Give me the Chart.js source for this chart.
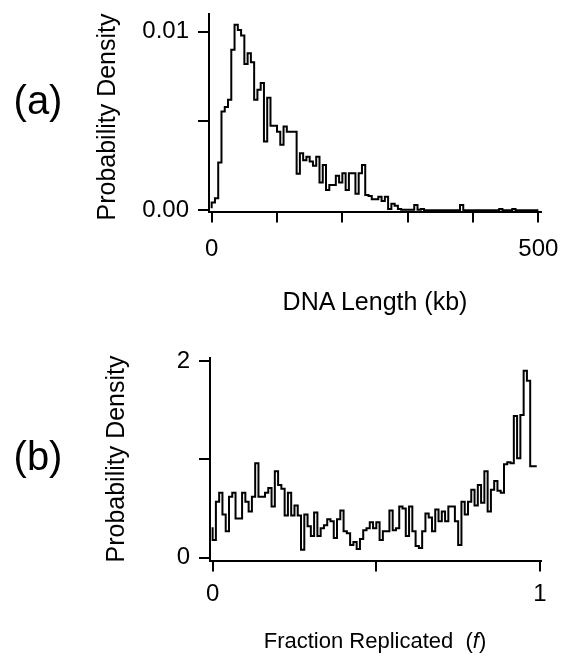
<!DOCTYPE html>
<html>
<head>
<meta charset="utf-8">
<script src="https://cdn.jsdelivr.net/npm/chart.js@4.4.0/dist/chart.umd.min.js"></script>
<style>
  html, body { margin: 0; padding: 0; background: #fff; }
  body { width: 561px; height: 660px; position: relative; overflow: hidden;
         font-family: 'Liberation Sans', Arial, sans-serif; color: #000; }
  canvas { position: absolute; left: 0; }
  .lbl { position: absolute; white-space: nowrap; line-height: 1; transform: translate(-50%, -50%); }
  .panel { font-size: 40px; }
  .ytitle { font-size: 25px; transform: translate(-50%, -50%) rotate(-90deg); }
  .xtitle { font-size: 25px; transform: translate(-50%, 0); }
</style>
</head>
<body>
<canvas id="chartA" width="561" height="330" style="top:0px"></canvas>
<canvas id="chartB" width="561" height="330" style="top:330px"></canvas>

<div class="lbl panel" style="left:38px; top:100px">(a)</div>
<div class="lbl panel" style="left:38px; top:456px">(b)</div>
<div class="lbl ytitle" style="left:106px; top:117px">Probability Density</div>
<div class="lbl ytitle" style="left:115px; top:459px">Probability Density</div>
<div class="lbl xtitle" style="left:375px; top:289px">DNA Length (kb)</div>
<div class="lbl xtitle" style="left:375px; top:630px; font-size:22px">Fraction Replicated&nbsp; (<i>f</i>)</div>

<script>
// (a) DNA length histogram, 5 kb bins
const lengthEdges = [0,5,10,15,20,25,30,35,40,45,50,55,60,65,70,75,80,85,90,95,
  100,105,110,115,120,125,130,135,140,145,150,155,160,165,170,175,180,185,190,195,
  200,205,210,215,220,225,230,235,240,245,250,255,260,265,270,275,280,285,290,295,
  300,305,310,315,320,325,330,335,340,345,350,355,360,365,370,375,380,385,390,395,
  400,405,410,415,420,425,430,435,440,445,450,455,460,465,470,475,480,485,490,495,500];
const lengthDensity = [0.00011,0.00043,0.00067,0.00267,0.00554,0.00579,0.0062,0.0090,0.0104,0.0101,
  0.0098,0.0082,0.0088,0.0083,0.0062,0.00676,0.00713,0.00385,0.0063,0.00474,
  0.00474,0.0044,0.00367,0.0047,0.0044,0.0044,0.0044,0.00204,0.0032,0.0028,
  0.0030,0.00273,0.00249,0.0030,0.00155,0.00254,0.00114,0.00142,0.00142,0.00193,
  0.00155,0.00208,0.00114,0.00208,0.00208,0.00092,0.00208,0.00254,0.00086,0.0008,
  0.00062,0.00062,0.00076,0.00052,0.00076,0.00007,0.00037,0.00025,0.00007,0.00003,
  0.00003,0.00003,0.00003,0.0003,0.00003,0.00007,0,0,0,0,
  0,0,0,0,0,0,0,0.0003,0,0,
  0,0,0,0,0,0,0,0,0,0.00007,
  0,0,0,0.00007,0,0,0,0,0,0];
const lengthTicks = [0,100,200,300,400,500];
const lengthTickLabels = ['0','','','','','500'];
const densATicks = [0,0.005,0.01];
const densATickLabels = ['0.00','','0.01'];

// (b) fraction replicated histogram, 0.01 bins
const fracEdges = [0,0.01,0.02,0.03,0.04,0.05,0.06,0.07,0.08,0.09,
  0.10,0.11,0.12,0.13,0.14,0.15,0.16,0.17,0.18,0.19,
  0.20,0.21,0.22,0.23,0.24,0.25,0.26,0.27,0.28,0.29,
  0.30,0.31,0.32,0.33,0.34,0.35,0.36,0.37,0.38,0.39,
  0.40,0.41,0.42,0.43,0.44,0.45,0.46,0.47,0.48,0.49,
  0.50,0.51,0.52,0.53,0.54,0.55,0.56,0.57,0.58,0.59,
  0.60,0.61,0.62,0.63,0.64,0.65,0.66,0.67,0.68,0.69,
  0.70,0.71,0.72,0.73,0.74,0.75,0.76,0.77,0.78,0.79,
  0.80,0.81,0.82,0.83,0.84,0.85,0.86,0.87,0.88,0.89,
  0.90,0.91,0.92,0.93,0.94,0.95,0.96,0.97,0.98,0.99];
const fracDensity = [0.31,0.18,0.57,0.66,0.44,0.27,0.62,0.66,0.40,0.40,
  0.66,0.57,0.47,0.62,0.96,0.62,0.62,0.66,0.71,0.52,
  0.88,0.74,0.70,0.43,0.66,0.43,0.53,0.43,0.08,0.44,
  0.32,0.22,0.46,0.22,0.30,0.33,0.39,0.37,0.20,0.39,
  0.48,0.27,0.25,0.13,0.16,0.09,0.19,0.28,0.30,0.36,
  0.30,0.36,0.18,0.27,0.27,0.48,0.28,0.30,0.52,0.50,
  0.22,0.52,0.27,0.12,0.10,0.27,0.45,0.41,0.27,0.49,
  0.37,0.47,0.37,0.52,0.52,0.37,0.13,0.57,0.44,0.57,
  0.69,0.53,0.74,0.56,0.88,0.47,0.69,0.78,0.68,0.66,
  0.95,0.97,0.96,1.44,1.01,1.45,1.90,1.80,0.93];
const fracTicks = [0,0.5,1];
const fracTickLabels = ['0','','1'];
const densBTicks = [0,1,2];
const densBTickLabels = ['0','','2'];

Chart.defaults.font.family = "'Liberation Sans', Arial, sans-serif";
Chart.defaults.font.size = 24;
Chart.defaults.color = '#000';

// step outline: each edge gets its bin value, the last edge closes the final bin
function stepPoints(edges, values) {
  return edges.map((x, i) => ({x: x, y: values[Math.min(i, values.length - 1)]}));
}

function axisOpts(min, max, ticks, labels, fitSize, isX, pad) {
  return {
    type: 'linear',
    bounds: 'data',
    min: min,
    max: max,
    border: {display: true, color: '#000', width: 2},
    grid: {display: true, drawOnChartArea: false, drawTicks: true, tickLength: 11, color: '#000', lineWidth: 2},
    ticks: {
      autoSkip: false,
      maxRotation: 0,
      padding: pad,
      callback: function(value, index) { return labels[index]; }
    },
    afterBuildTicks: function(scale) { scale.ticks = ticks.map(v => ({value: v})); },
    afterFit: function(scale) {
      // fixed axis size, and let end labels hang over the edge like the original
      if (isX) scale.height = fitSize; else scale.width = fitSize;
      scale.paddingLeft = 0; scale.paddingRight = 0;
      scale.paddingTop = 0; scale.paddingBottom = 0;
    }
  };
}

function histChart(id, edges, values, xs, ys, pad) {
  return new Chart(document.getElementById(id), {
    type: 'line',
    data: {
      datasets: [{
        data: stepPoints(edges, values),
        stepped: 'after',
        borderColor: '#000',
        borderWidth: 2,
        pointRadius: 0,
        fill: false
      }]
    },
    options: {
      responsive: false,
      animation: false,
      devicePixelRatio: 1,
      layout: {padding: pad},
      plugins: {legend: {display: false}, tooltip: {enabled: false}},
      scales: {x: xs, y: ys}
    }
  });
}

histChart('chartA', lengthEdges, lengthDensity,
  axisOpts(-4.1, 504, lengthTicks, lengthTickLabels, 118.5, true, 12),
  axisOpts(-0.00007, 0.0110, densATicks, densATickLabels, 209, false, 9),
  {left: 0, right: 20, top: 14, bottom: 0});

histChart('chartB', fracEdges, fracDensity,
  axisOpts(-0.008, 1.003, fracTicks, fracTickLabels, 99.5, true, 8),
  axisOpts(-0.028, 2.03, densBTicks, densBTickLabels, 210, false, 9),
  {left: 0, right: 20, top: 28, bottom: 0});
</script>
</body>
</html>
